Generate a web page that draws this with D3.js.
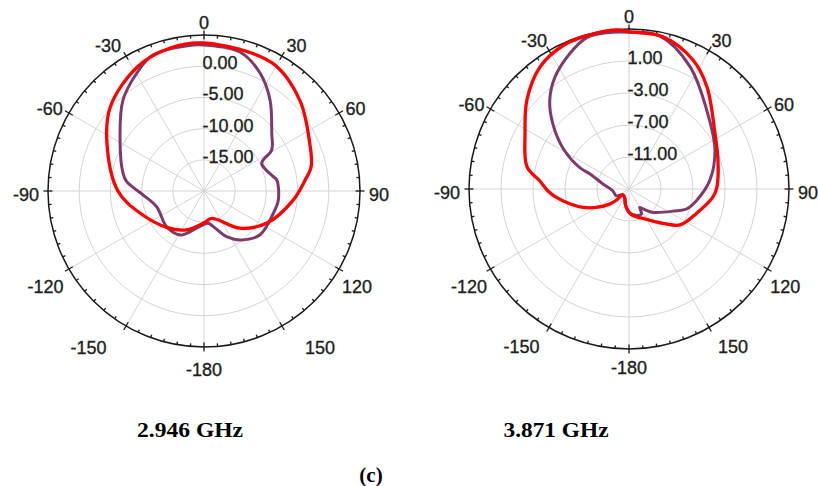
<!DOCTYPE html>
<html lang="en">
<head>
<meta charset="UTF-8">
<title>Radiation patterns</title>
<script src="https://d3js.org/d3.v7.min.js"></script>
<style>
  body { margin: 0; background: #fff; }
  .lbl { font-family: "Liberation Sans", Arial, sans-serif; font-size: 18px; fill: #1e1e1e; stroke: #1e1e1e; stroke-width: 0.35px; }
  .cap { font-family: "Liberation Serif", "Times New Roman", serif; font-weight: bold; font-size: 21px; fill: #000; }
</style>
</head>
<body>
<div id="chart"></div>
<script>
// angle tick labels, same on both plots
var angleLabels = [0, 30, 60, 90, 120, 150, -180, -150, -120, -90, -60, -30];

// ---- 2.946 GHz ----
var ringLabels1 = [-15, -10, -5, 0];
var redAngles1 = [0, 28, 46.5, 65.6, 77, 84, 96, 117, 136, 164, 180, 204, 225, 251, 270, 296, 312, 332, 347];
var redValues1 = [3.72, 3.24, 1.15, -1.4, -2.37, -3.72, -5.66, -8.67, -11.73, -15.45, -14.9, -13.2, -11.7, -9.15, -6.2, -2.7, 0.19, 2.6, 3.56];
var purpleAngles1 = [0, 14.5, 25.4, 36, 49.6, 58.8, 64.4, 78.3, 81.4, 96.9, 107.8, 128, 142.4, 153.4, 165.4, 172.4, 202.2, 208.6, 226.3, 251.6, 266.2, 276.9, 282.5, 301.3, 318.3, 330.4, 339.4, 355.7];
var purpleValues1 = [3.4, 3.01, 0.93, -1.99, -5.74, -7.32, -9.74, -8.65, -8.2, -8.0, -8.33, -8.6, -10.1, -11.76, -14.1, -14.78, -12.68, -11.97, -11.73, -12.0, -10.25, -7.52, -6.7, -4.25, -0.48, 1.75, 3.27, 3.46];

// ---- 3.871 GHz ----
var ringLabels2 = [-11, -7, -3, 1];
var redAngles2 = [0, 12.6, 26.4, 37.4, 56.9, 71.9, 88.7, 95.4, 109.4, 125.2, 135.3, 154, 174, 189.6, 206.3, 227, 228.5, 232, 240.6, 248.2, 256.1, 263.4, 268.8, 275.3, 282.2, 298.3, 311.1, 323.9, 335.7, 346, 355.6];
var redValues2 = [4.66, 4.5, 3.0, 1.05, -2.18, -3.3, -4.0, -4.45, -5.99, -7.2, -8.96, -10.9, -11.74, -12.75, -13.8, -13.9, -12.9, -11.93, -10.3, -8.81, -7.36, -5.86, -4.84, -3.79, -1.96, -0.24, 1.93, 3.88, 4.75, 4.88, 4.94];
var purpleAngles2 = [0, 11.5, 26.5, 44.5, 65.6, 84.1, 99.8, 109.2, 114.6, 134.3, 145, 149.8, 153.6, 165, 180, 195, 210, 227, 242, 264, 280.9, 291.3, 293.4, 301.9, 310.6, 318.1, 326.3, 336.3, 344.4, 351.9];
var purpleValues2 = [4.6, 4.5, 2.09, -1.15, -3.2, -4.86, -6.45, -7.4, -8.49, -10.81, -11.95, -12.34, -11.5, -11.6, -12.1, -13.1, -13.85, -13.95, -13.2, -12.95, -11.69, -9.73, -8.29, -5.24, -2.45, -0.16, 1.73, 3.46, 4.64, 4.74];

var svg = d3.select("#chart")
    .append("svg")
    .attr("width", 818)
    .attr("height", 486);

function drawPolar(o) {
    var g = svg.append("g")
        .attr("transform", "translate(" + o.cx + "," + o.cy + ")");

    var r = d3.scaleLinear().domain([o.min, o.max]).range([0, o.R]);
    var rad = function(a) { return a * Math.PI / 180; };

    // grid rings
    g.selectAll(".ring")
        .data(d3.range(o.min + o.step, o.max, o.step))
        .enter().append("circle")
        .attr("r", function(d) { return r(d); })
        .attr("fill", "none")
        .attr("stroke", "#d4d4d4")
        .attr("stroke-width", 1);

    // spokes every 30 deg
    g.selectAll(".spoke")
        .data(d3.range(0, 360, 30))
        .enter().append("line")
        .attr("x1", 0).attr("y1", 0)
        .attr("x2", function(d) { return o.R * Math.sin(rad(d)); })
        .attr("y2", function(d) { return -o.R * Math.cos(rad(d)); })
        .attr("stroke", "#d4d4d4")
        .attr("stroke-width", 1);

    // outer circle
    g.append("circle")
        .attr("r", o.R)
        .attr("fill", "none")
        .attr("stroke", "#1a1a1a")
        .attr("stroke-width", 1.5);

    // ticks, 5 deg minor, 30 deg major
    var r0 = function(d) { return d % 30 ? o.R - 3 : o.R - 4.5; };
    var r1 = function(d) { return d % 30 ? o.R : o.R + 4.5; };
    g.selectAll(".tick")
        .data(d3.range(0, 360, 5))
        .enter().append("line")
        .attr("x1", function(d) { return r0(d) * Math.sin(rad(d)); })
        .attr("y1", function(d) { return -r0(d) * Math.cos(rad(d)); })
        .attr("x2", function(d) { return r1(d) * Math.sin(rad(d)); })
        .attr("y2", function(d) { return -r1(d) * Math.cos(rad(d)); })
        .attr("stroke", "#1a1a1a")
        .attr("stroke-width", 1.3);

    // curves
    var line = d3.lineRadial()
        .angle(function(d) { return rad(d[0]); })
        .radius(function(d) { return r(d[1]); })
        .curve(d3.curveCatmullRomClosed.alpha(0.5));

    g.append("path")
        .datum(d3.zip(o.purpleAngles, o.purpleValues))
        .attr("d", line)
        .attr("fill", "none")
        .attr("stroke", "#7d3b6b")
        .attr("stroke-width", 3);

    g.append("path")
        .datum(d3.zip(o.redAngles, o.redValues))
        .attr("d", line)
        .attr("fill", "none")
        .attr("stroke", "#ff0000")
        .attr("stroke-width", 3.3);

    // ring labels
    g.selectAll(".rlabel")
        .data(o.ringLabels)
        .enter().append("text")
        .attr("class", "lbl")
        .attr("x", -1.5)
        .attr("y", function(d) { return -r(d) + 3; })
        .text(function(d) { return d.toFixed(2); });

    // angle labels
    g.selectAll(".alabel")
        .data(angleLabels)
        .enter().append("text")
        .attr("class", "lbl")
        .attr("text-anchor", "middle")
        .text(function(d) { return d; })
        .each(function(d) {
            var w = this.getComputedTextLength() / 2, h = 6.5;
            var s = Math.sin(rad(d)), c = Math.cos(rad(d));
            var nudge = o.nudge[d] || [0, 0];
            var x = (o.R + 9) * s + w * s + nudge[0];
            var y = -(o.R + 9) * c - h * c + 3 + nudge[1];
            d3.select(this).attr("x", x).attr("y", y + 6.5);
        });
}

drawPolar({
    cx: 204, cy: 191, R: 156, min: -20, max: 5, step: 5,
    ringLabels: ringLabels1,
    redAngles: redAngles1, redValues: redValues1,
    purpleAngles: purpleAngles1, purpleValues: purpleValues1,
    nudge: {30: [5, 0], "-30": [-7, 0], 120: [-3, 7], "-120": [0, 7], 150: [26, 5], "-150": [-24, 5], "-180": [0, 4]}
});

drawPolar({
    cx: 629, cy: 189, R: 160, min: -15, max: 5, step: 4,
    ringLabels: ringLabels2,
    redAngles: redAngles2, redValues: redValues2,
    purpleAngles: purpleAngles2, purpleValues: purpleValues2,
    nudge: {30: [3, 0], "-30": [-4, 0], 120: [-3, 7], "-120": [2, 7], 150: [12, 3], "-150": [-14, 3]}
});

// captions
svg.append("text")
    .attr("class", "cap")
    .attr("x", 190).attr("y", 437)
    .attr("text-anchor", "middle")
    .attr("textLength", 106)
    .attr("lengthAdjust", "spacingAndGlyphs")
    .text("2.946 GHz");

svg.append("text")
    .attr("class", "cap")
    .attr("x", 556).attr("y", 437)
    .attr("text-anchor", "middle")
    .attr("textLength", 105)
    .attr("lengthAdjust", "spacingAndGlyphs")
    .text("3.871 GHz");

svg.append("text")
    .attr("class", "cap")
    .attr("x", 371).attr("y", 482)
    .attr("text-anchor", "middle")
    .text("(c)");
</script>
</body>
</html>
